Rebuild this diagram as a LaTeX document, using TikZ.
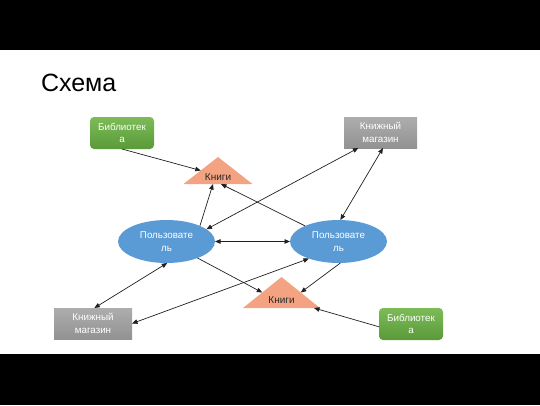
\documentclass[tikz,border=0pt]{standalone}
\usepackage{fontspec}
\setmainfont{Liberation Sans}
\usetikzlibrary{shapes.geometric,arrows.meta}
\definecolor{userblue}{HTML}{5B9BD5}
\definecolor{libtop}{HTML}{7CBB57}
\definecolor{libbot}{HTML}{5A9A3A}
\definecolor{shoptop}{HTML}{ADADAD}
\definecolor{shopbot}{HTML}{929292}
\definecolor{booksfill}{HTML}{F3A282}
\definecolor{linecol}{HTML}{202020}
\begin{document}
\begin{tikzpicture}[x=1pt,y=-1pt,
  every node/.style={font=\fontsize{9.8}{12.4}\selectfont, align=center, inner sep=0pt, outer sep=0pt},
  user/.style={ellipse, fill=userblue, text=white, minimum width=97pt, minimum height=43pt},
  library/.style={rectangle, rounded corners=4pt, top color=libtop, bottom color=libbot, text=white, minimum width=64pt, minimum height=32pt},
  shop/.style={rectangle, top color=shoptop, bottom color=shopbot, text=white, minimum height=31pt},
  books/.style={isosceles triangle, isosceles triangle stretches, shape border rotate=90, fill=booksfill, anchor=lower side},
  bookslabel/.style={font=\fontsize{10}{12}\selectfont, text=black!85},
  link/.style={draw=linecol, line width=0.7pt, -{Triangle[length=5.5pt,width=4.5pt]}},
  biglink/.style={draw=linecol, line width=0.7pt, {Triangle[length=5.5pt,width=4.5pt]}-{Triangle[length=5.5pt,width=4.5pt]}},
]
\useasboundingbox (0,0) rectangle (540,405);
\fill[black] (0,0) rectangle (540,49.5);
\fill[black] (0,354) rectangle (540,405);
\node[font=\fontsize{25}{30}\selectfont, anchor=base west] (title) at (41,91) {Схема};

\node[library] (lib1) at (122,133) {Библиотек\\а};
\node[shop, minimum width=73pt] (shop1) at (380.5,132.5) {Книжный\\магазин};
\node[user] (u1) at (166.5,241.5) {Пользовате\\ль};
\node[user] (u2) at (338.5,241.5) {Пользовате\\ль};
\node[shop, minimum width=78pt] (shop2) at (93,323.5) {Книжный\\магазин};
\node[library] (lib2) at (411,324) {Библиотек\\а};

\node[books, minimum width=69pt, minimum height=27pt] (t1) at (218,184) {};
\node[bookslabel] (t1label) at (218,177.5) {Книги};
\node[books, minimum width=77pt, minimum height=31pt] (t2) at (281.5,308) {};
\node[bookslabel] (t2label) at (281.5,300.5) {Книги};

\draw[link] (lib1.south) -- (t1.left side);
\draw[link] (u1.25) -- ([xshift=-5pt]t1.lower side);
\draw[link] (u2.155) -- ([xshift=3pt]t1.lower side);
\draw[biglink] (u1.17) -- (shop1.-145);
\draw[biglink] (u2.85) -- (shop1.-81);
\draw[biglink] (u1.east) -- (u2.west);
\draw[link] (u1.-28) -- (t2.left side);
\draw[link] (u2.-85) -- (t2.right side);
\draw[biglink] (shop2.85) -- (u1.-88);
\draw[biglink] (shop2.east) -- (u2.210);
\draw[link] (lib2.185) -- ([xshift=-6pt]t2.right corner);
\end{tikzpicture}
\end{document}
